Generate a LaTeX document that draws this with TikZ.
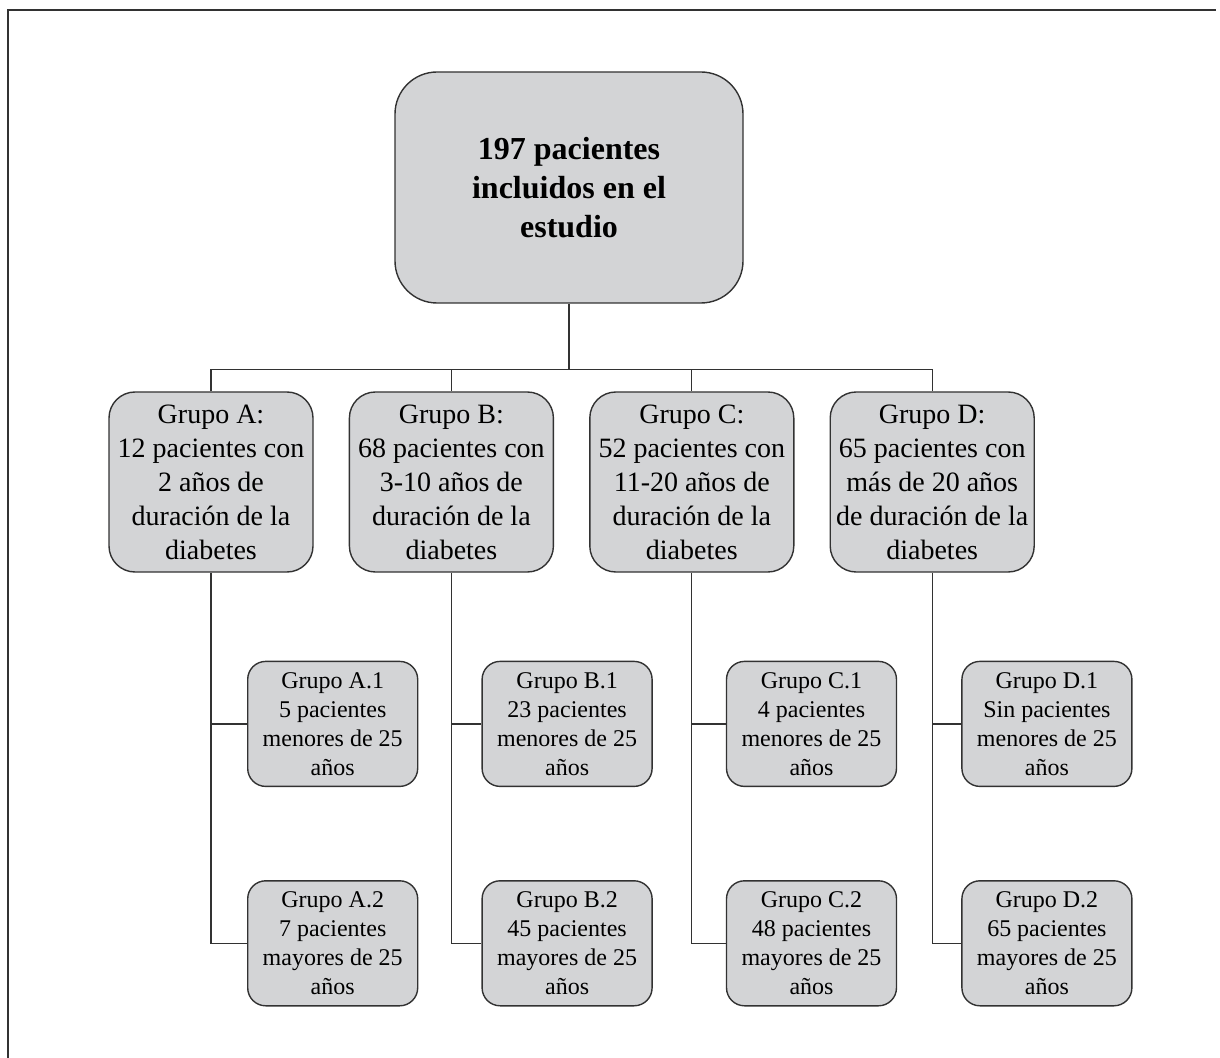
\documentclass[tikz,border=0pt]{standalone}
\usepackage{fontspec}
\setmainfont{Liberation Serif}
\usetikzlibrary{positioning,calc}
\definecolor{boxgray}{RGB}{211,212,214}
\definecolor{linegray}{RGB}{50,50,50}

\begin{document}
\begin{tikzpicture}[x=0.5pt,y=-0.5pt,
 cell/.style={draw=linegray,line width=0.7pt,fill=boxgray,align=center,inner sep=2pt},
 rootbox/.style={cell,rounded corners=21pt,minimum width=174pt,minimum height=115.5pt,font=\fontsize{16}{19.5}\selectfont\bfseries},
 grpbox/.style={cell,rounded corners=13pt,minimum width=102pt,minimum height=90pt,font=\fontsize{14}{17}\selectfont},
 subbox/.style={cell,rounded corners=9pt,minimum width=85pt,minimum height=62.5pt,font=\fontsize{12}{14.5}\selectfont},
 ln/.style={linegray,line width=0.6pt}]
\useasboundingbox (0,0) rectangle (1220,1058);
\draw[linegray,line width=1pt] (8,1060) |- (1216,10.5);
\node[rootbox] (root) at (569,187.5) {197 pacientes\\incluidos en el\\estudio};
\node[grpbox] (gA) at (211,482) {Grupo A:\\12 pacientes con\\2 años de\\duración de la\\diabetes};
\node[grpbox,right=17.5pt of gA] (gB) {Grupo B:\\68 pacientes con\\3-10 años de\\duración de la\\diabetes};
\node[grpbox,right=17.5pt of gB] (gC) {Grupo C:\\52 pacientes con\\11-20 años de\\duración de la\\diabetes};
\node[grpbox,right=17.5pt of gC] (gD) {Grupo D:\\65 pacientes con\\más de 20 años\\de duración de la\\diabetes};
\node[subbox,below right=44pt and 18pt of gA.south] (a1) {Grupo A.1\\5 pacientes\\menores de 25\\años};
\node[subbox,below=46.5pt of a1] (a2) {Grupo A.2\\7 pacientes\\mayores de 25\\años};
\node[subbox,below right=44pt and 15pt of gB.south] (b1) {Grupo B.1\\23 pacientes\\menores de 25\\años};
\node[subbox,below=46.5pt of b1] (b2) {Grupo B.2\\45 pacientes\\mayores de 25\\años};
\node[subbox,below right=44pt and 17pt of gC.south] (c1) {Grupo C.1\\4 pacientes\\menores de 25\\años};
\node[subbox,below=46.5pt of c1] (c2) {Grupo C.2\\48 pacientes\\mayores de 25\\años};
\node[subbox,below right=44pt and 14.5pt of gD.south] (d1) {Grupo D.1\\Sin pacientes\\menores de 25\\años};
\node[subbox,below=46.5pt of d1] (d2) {Grupo D.2\\65 pacientes\\mayores de 25\\años};
% ramas
\coordinate[below=33pt of root.south] (bus);
\draw[ln] (root.south) -- (bus);
\draw[ln] (gA.north) |- (bus) -| (gD.north);
\draw[ln] (gB.north) -- (gB.north |- bus);
\draw[ln] (gC.north) -- (gC.north |- bus);
\draw[ln] (gA.south) |- (a2.west); \draw[ln] (gA.south |- a1.west) -- (a1.west);
\draw[ln] (gB.south) |- (b2.west); \draw[ln] (gB.south |- b1.west) -- (b1.west);
\draw[ln] (gC.south) |- (c2.west); \draw[ln] (gC.south |- c1.west) -- (c1.west);
\draw[ln] (gD.south) |- (d2.west); \draw[ln] (gD.south |- d1.west) -- (d1.west);
\end{tikzpicture}
\end{document}
